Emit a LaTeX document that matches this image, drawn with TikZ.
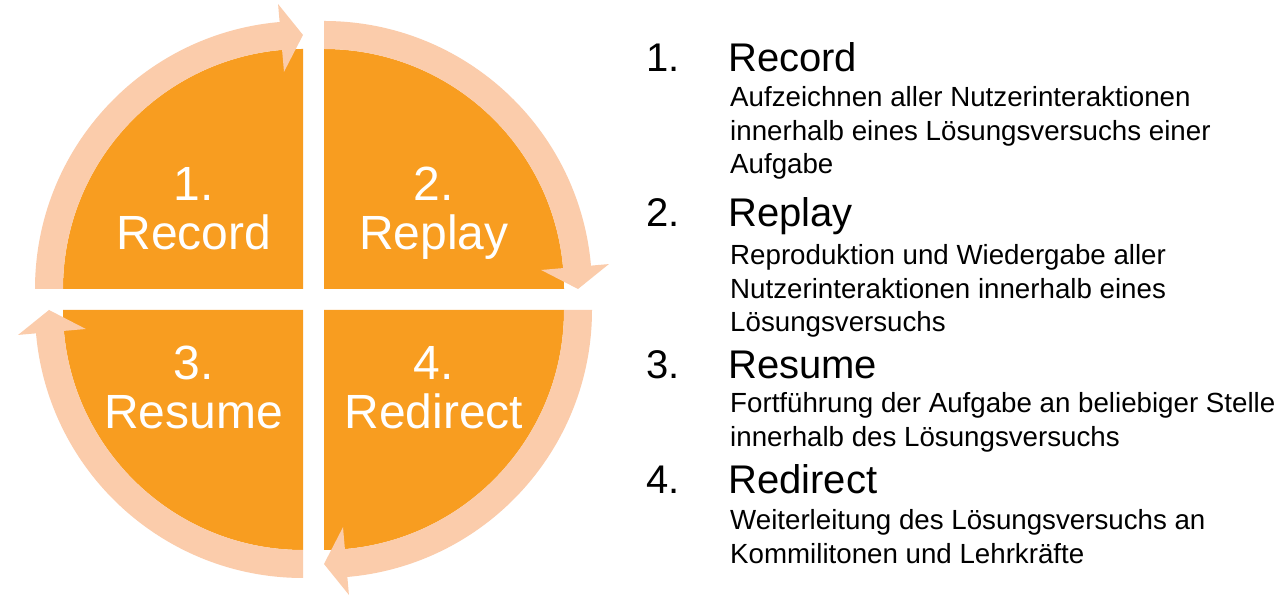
\documentclass[tikz,border=0pt]{standalone}
\usepackage{fontspec}
\setmainfont{Liberation Sans}
\begin{document}
\definecolor{segorange}{RGB}{248,157,32}
\definecolor{ringpeach}{RGB}{251,204,171}
\begin{tikzpicture}[x=1pt,y=1pt,
  quad/.style={fill=segorange},
  ring/.style={fill=ringpeach},
  qlabel/.style={text=white,font=\fontsize{48}{48}\selectfont,inner sep=0,anchor=base},
  headnum/.style={font=\fontsize{40}{40}\selectfont,inner sep=0,anchor=base west},
  headword/.style={font=\fontsize{40}{40}\selectfont,inner sep=0,anchor=base west},
  bodyline/.style={font=\fontsize{27.7}{33.3}\selectfont,inner sep=0,anchor=base west}]
\useasboundingbox[fill=white] (0,0) rectangle (1286,604);

% four quarter-disc segments, each around its own corner point
\foreach \cx/\cy/\a in {303/315/180, 324/315/90, 324/294/0, 303/294/270}{
  \begin{scope}[shift={(\cx,\cy)},rotate=\a-180]
    \fill[quad] (0,0) -- (180:240) arc[start angle=180,end angle=90,radius=240] -- cycle;
  \end{scope}
}

% curved arrows running clockwise around the segments
\foreach \cx/\cy/\a in {303/315/180, 324/315/90, 324/294/0, 303/294/270}{
  \begin{scope}[shift={(\cx,\cy)},rotate=\a-180]
    \fill[ring] (180:268) arc[start angle=180,end angle=95,radius=268]
      -- (95:286) -- (90:254) -- (95:218) -- (95:240)
      arc[start angle=95,end angle=180,radius=240] -- cycle;
  \end{scope}
}

% segment labels
\node[qlabel] (n1) at (194,403.3) {1.};
\node[qlabel] (w1) at (194,354.7) {Record};
\node[qlabel] (n2) at (434,403.3) {2.};
\node[qlabel] (w2) at (434,354.7) {Replay};
\node[qlabel] (n3) at (193.5,224) {3.};
\node[qlabel] (w3) at (193.5,175) {Resume};
\node[qlabel] (n4) at (434,224) {4.};
\node[qlabel] (w4) at (434,175) {Redirect};

% list on the right
\node[headnum]  (h1n) at (646,532) {1.};
\node[headword] (h1w) at (728,532) {Record};
\node[bodyline] (b1a) at (730,497) {Aufzeichnen aller Nutzerinteraktionen};
\node[bodyline] (b1b) at (730,463.7) {innerhalb eines Lösungsversuchs einer};
\node[bodyline] (b1c) at (730,430.4) {Aufgabe};

\node[headnum]  (h2n) at (646,377) {2.};
\node[headword] (h2w) at (728,377) {Replay};
\node[bodyline] (b2a) at (730,339) {Reproduktion und Wiedergabe aller};
\node[bodyline] (b2b) at (730,305.7) {Nutzerinteraktionen innerhalb eines};
\node[bodyline] (b2c) at (730,272.4) {Lösungsversuchs};

\node[headnum]  (h3n) at (646,225) {3.};
\node[headword] (h3w) at (728,225) {Resume};
\node[bodyline] (b3a) at (730,191) {Fortführung der Aufgabe an beliebiger Stelle};
\node[bodyline] (b3b) at (730,157.7) {innerhalb des Lösungsversuchs};

\node[headnum]  (h4n) at (646,110) {4.};
\node[headword] (h4w) at (728,110) {Redirect};
\node[bodyline] (b4a) at (730,74) {Weiterleitung des Lösungsversuchs an};
\node[bodyline] (b4b) at (730,40.7) {Kommilitonen und Lehrkräfte};
\end{tikzpicture}
\end{document}
